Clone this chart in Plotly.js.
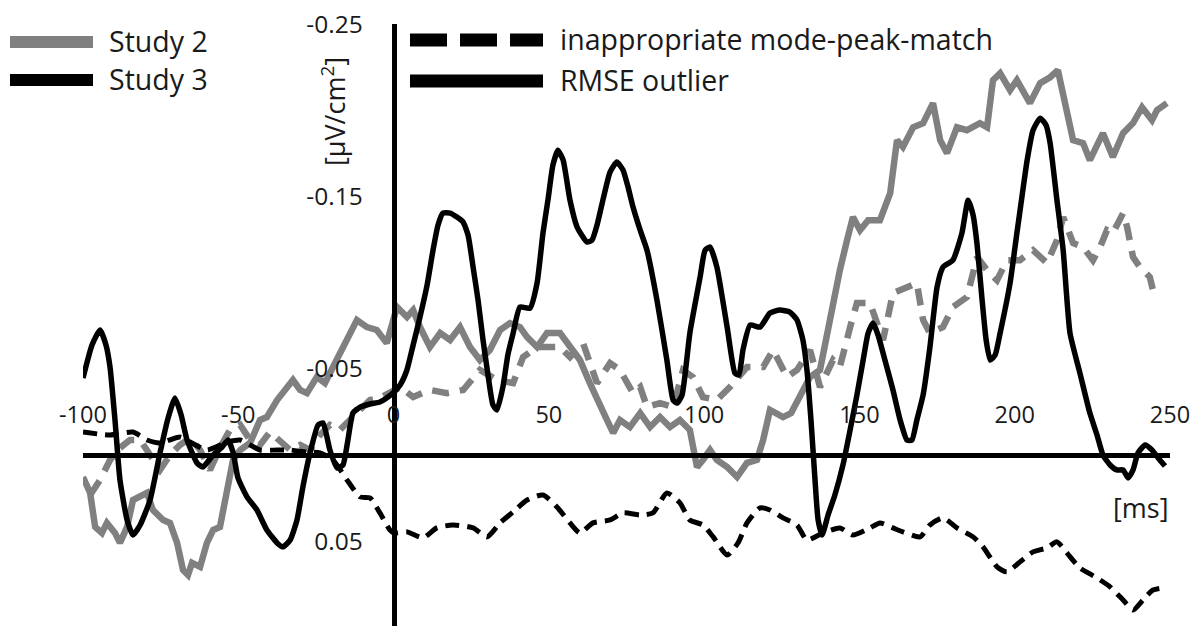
<!DOCTYPE html>
<html>
<head>
<meta charset="utf-8">
<script src="https://cdn.plot.ly/plotly-3.0.1.min.js"></script>
<style>html,body{margin:0;padding:0;background:#fff;}#chart{width:1200px;height:626px;}</style>
</head>
<body>
<div id="chart"></div>
<script>
// ---- data (time in ms, amplitude in µV/cm²) ----
const s3OutlierX = [-100,-97.1,-94.5,-92.6,-91.3,-89.7,-88.1,-85.8,-83.9,-81.6,-78.4,-75.2,-72.6,-70.4,-68.4,-66.5,-63.3,-61.4,-58.1,-55.2,-53.3,-51.7,-50.1,-47.2,-44.0,-40.8,-37.5,-35.6,-33.3,-31.1,-29.2,-26.9,-24.3,-22.7,-20.5,-18.2,-16.3,-14.7,-13.1,-10.8,-7.6,-4.4,-1.8,-0.2,2.1,4.3,6.3,8.5,10.8,12.7,14.3,15.9,18.2,20.4,22.4,24.0,25.6,27.2,28.8,30.4,32.0,33.3,35.2,36.8,38.5,40.7,43.9,46.2,48.1,49.7,51.3,52.9,54.6,56.8,59.1,62.3,63.9,65.5,67.4,69.7,71.9,73.9,75.5,77.1,79.4,81.6,84.8,88.0,90.0,91.3,92.9,95.4,98.7,100.3,101.9,104.1,107.4,109.9,111.2,112.5,114.8,118.0,121.2,124.4,127.6,129.9,131.8,133.1,134.4,135.7,136.7,138.0,139.9,142.1,144.7,147.0,149.2,151.2,152.8,154.4,156.0,158.2,160.8,163.1,165.3,166.9,168.5,170.5,172.7,175.0,176.9,180.1,183.0,185.0,186.6,187.9,189.5,190.8,192.1,193.7,195.3,198.5,200.7,202.4,204.0,205.9,208.2,210.1,211.4,213.6,215.6,217.8,221.0,224.2,226.5,228.4,230.7,232.9,234.9,236.5,238.1,239.7,242.0,244.2,246.2,248.4];
const s3OutlierY = [-0.0446,-0.0638,-0.0725,-0.0638,-0.0510,-0.0203,0.0145,0.0377,0.0464,0.0406,0.0261,-0.0012,-0.0214,-0.0330,-0.0232,-0.0087,0.0046,0.0070,0.0,-0.0046,-0.0087,-0.0017,0.0133,0.0243,0.0319,0.0435,0.0510,0.0533,0.0493,0.0377,0.0186,-0.0012,-0.0174,-0.0186,-0.0029,0.0075,0.0058,-0.0087,-0.0243,-0.0278,-0.0296,-0.0307,-0.0336,-0.0359,-0.0406,-0.0493,-0.0638,-0.0800,-0.0986,-0.1188,-0.1333,-0.1403,-0.1403,-0.1380,-0.1351,-0.1275,-0.1090,-0.0899,-0.0667,-0.0464,-0.0290,-0.0261,-0.0394,-0.0580,-0.0707,-0.0858,-0.0852,-0.0997,-0.1287,-0.1478,-0.1681,-0.1768,-0.1710,-0.1478,-0.1322,-0.1235,-0.1246,-0.1333,-0.1478,-0.1641,-0.1699,-0.1652,-0.1554,-0.1438,-0.1304,-0.1188,-0.0899,-0.0551,-0.0319,-0.0301,-0.0348,-0.0707,-0.1032,-0.1188,-0.1206,-0.1090,-0.0742,-0.0475,-0.0464,-0.0609,-0.0754,-0.0742,-0.0823,-0.0841,-0.0829,-0.0783,-0.0667,-0.0493,-0.0203,0.0145,0.0377,0.0464,0.0348,0.0232,0.0058,-0.0145,-0.0348,-0.0551,-0.0707,-0.0765,-0.0696,-0.0551,-0.0377,-0.0203,-0.0087,-0.0087,-0.0203,-0.0348,-0.0626,-0.0974,-0.1090,-0.1130,-0.1287,-0.1478,-0.1391,-0.1217,-0.0899,-0.0667,-0.0551,-0.0580,-0.0707,-0.0997,-0.1287,-0.1507,-0.1710,-0.1884,-0.1954,-0.1913,-0.1809,-0.1478,-0.1188,-0.0707,-0.0475,-0.0243,-0.0116,0.0,0.0058,0.0087,0.0087,0.0133,0.0087,-0.0012,-0.0058,-0.0029,0.0017,0.0064];

const s3MismatchX = [-100,-91.3,-83.9,-79.4,-75.2,-68.8,-65.5,-60.1,-53.6,-49.4,-43.0,-37.5,-33.3,-27.9,-23.7,-19.5,-15.0,-10.8,-7.6,-4.4,-1.2,0,4.3,9.5,13.9,19.1,25.6,30.1,34.3,38.5,43.0,48.1,52.6,56.8,60.0,64.2,69.7,73.9,79.4,83.5,88.0,92.2,95.4,99.6,102.9,107.4,110.9,113.8,118.0,121.2,125.4,129.9,133.1,138.3,143.7,147.9,153.4,156.6,160.8,164.0,169.5,172.7,176.9,181.4,186.6,189.8,194.3,197.5,201.7,205.9,210.4,213.6,216.8,221.0,226.5,230.7,234.9,238.1,241.3,244.5,247.7];
const s3MismatchY = [-0.0133,-0.0116,-0.0133,-0.0087,-0.0070,-0.0104,-0.0075,-0.0029,-0.0075,-0.0087,-0.0029,-0.0029,-0.0029,-0.0017,-0.0012,0.0029,0.0145,0.0243,0.0249,0.0336,0.0435,0.0452,0.0446,0.0481,0.0423,0.0406,0.0423,0.0475,0.0394,0.0330,0.0261,0.0232,0.0301,0.0394,0.0452,0.0394,0.0377,0.0336,0.0348,0.0336,0.0220,0.0278,0.0377,0.0406,0.0475,0.0580,0.0510,0.0394,0.0307,0.0319,0.0365,0.0406,0.0493,0.0452,0.0423,0.0464,0.0423,0.0394,0.0423,0.0446,0.0475,0.0406,0.0365,0.0423,0.0475,0.0533,0.0649,0.0678,0.0620,0.0562,0.0539,0.0504,0.0568,0.0655,0.0713,0.0765,0.0841,0.0899,0.0841,0.0783,0.0771];

const s2OutlierX = [-100,-97.7,-96.1,-93.9,-92.3,-89.7,-88.1,-85.8,-83.9,-81.6,-79.4,-77.5,-74.2,-72.0,-69.7,-67.8,-66.2,-64.9,-62.3,-60.1,-58.1,-55.9,-53.6,-51.7,-49.4,-46.2,-43.0,-40.8,-37.5,-34.3,-32.4,-30.1,-27.9,-24.7,-22.1,-19.5,-16.3,-11.8,-8.6,-5.4,-2.2,-0.2,1.1,4.3,6.3,8.5,11.7,15.0,18.2,21.4,24.6,27.8,31.0,34.3,37.5,40.7,43.0,46.2,49.4,53.6,56.8,60.0,63.2,66.5,68.7,70.7,72.9,76.1,79.4,82.6,85.8,89.0,92.2,95.4,97.7,99.6,101.9,104.1,107.4,110.6,113.8,117.0,119.0,121.2,125.4,128.0,130.9,134.1,137.3,139.6,141.5,143.7,146.0,147.9,150.2,152.8,156.6,159.9,162.1,164.0,167.3,170.5,173.7,176.0,178.2,181.4,184.6,188.8,191.1,193.0,195.3,198.5,200.7,204.9,208.2,211.4,213.9,216.8,218.8,222.0,224.2,228.4,231.6,234.9,238.1,241.0,244.2,245.8,249.0];
const s2OutlierY = [0.0128,0.0220,0.0417,0.0452,0.0394,0.0452,0.0510,0.0417,0.0261,0.0243,0.0220,0.0319,0.0377,0.0394,0.0510,0.0667,0.0696,0.0626,0.0649,0.0510,0.0435,0.0417,0.0186,0.0029,-0.0029,-0.0070,-0.0203,-0.0220,-0.0319,-0.0394,-0.0435,-0.0377,-0.0359,-0.0452,-0.0417,-0.0510,-0.0626,-0.0783,-0.0742,-0.0725,-0.0649,-0.0783,-0.0858,-0.0800,-0.0841,-0.0742,-0.0626,-0.0707,-0.0667,-0.0742,-0.0626,-0.0551,-0.0609,-0.0725,-0.0765,-0.0742,-0.0684,-0.0626,-0.0707,-0.0707,-0.0626,-0.0551,-0.0417,-0.0278,-0.0203,-0.0128,-0.0203,-0.0162,-0.0243,-0.0162,-0.0220,-0.0162,-0.0203,-0.0145,0.0070,0.0029,-0.0029,0.0029,0.0070,0.0128,0.0046,0.0029,-0.0087,-0.0261,-0.0220,-0.0243,-0.0336,-0.0452,-0.0493,-0.0707,-0.0899,-0.1072,-0.1246,-0.1380,-0.1304,-0.1362,-0.1362,-0.1519,-0.1826,-0.1786,-0.1901,-0.1925,-0.2041,-0.1826,-0.1751,-0.1901,-0.1884,-0.1925,-0.1901,-0.2174,-0.2214,-0.2116,-0.2174,-0.2041,-0.2157,-0.2191,-0.2232,-0.2000,-0.1826,-0.1809,-0.1710,-0.1867,-0.1728,-0.1867,-0.1925,-0.2017,-0.1942,-0.2000,-0.2041];

const s2MismatchX = [-97.7,-94.5,-91.3,-88.1,-84.9,-81.6,-78.4,-75.2,-72.0,-68.8,-65.5,-62.3,-59.1,-55.9,-52.7,-49.4,-46.2,-43.0,-39.8,-36.6,-33.3,-30.1,-26.9,-23.7,-20.5,-17.3,-14.0,-10.8,-7.6,-4.4,-0.2,2.1,6.3,11.7,17.2,22.4,27.8,33.3,38.5,41.7,46.2,50.4,53.6,56.8,61.0,65.5,69.7,72.9,77.1,79.4,81.6,85.8,90.0,93.2,96.4,99.6,104.1,108.3,113.8,119.0,122.2,126.7,129.9,134.1,137.3,141.5,143.7,147.0,149.2,153.4,157.6,160.8,165.3,168.5,170.5,172.7,176.9,180.1,184.6,187.9,191.1,194.3,197.5,201.7,205.9,210.4,213.6,215.6,218.8,222.0,225.2,227.5,229.7,231.6,234.9,236.2,238.1,240.3,243.5,244.5];
const s2MismatchY = [0.0232,0.0145,0.0029,-0.0041,-0.0087,-0.0087,0.0,0.0087,0.0,-0.0058,-0.0099,-0.0029,0.0087,-0.0041,-0.0145,-0.0174,-0.0087,-0.0058,-0.0133,-0.0087,-0.0029,-0.0058,-0.0029,-0.0116,-0.0174,-0.0145,-0.0203,-0.0261,-0.0319,-0.0330,-0.0377,-0.0394,-0.0336,-0.0377,-0.0359,-0.0377,-0.0493,-0.0435,-0.0417,-0.0568,-0.0626,-0.0626,-0.0626,-0.0568,-0.0649,-0.0417,-0.0533,-0.0493,-0.0359,-0.0394,-0.0278,-0.0301,-0.0278,-0.0493,-0.0452,-0.0336,-0.0319,-0.0394,-0.0510,-0.0510,-0.0609,-0.0452,-0.0493,-0.0609,-0.0394,-0.0551,-0.0510,-0.0742,-0.0881,-0.0881,-0.0667,-0.0939,-0.0974,-0.0997,-0.0783,-0.0707,-0.0742,-0.0858,-0.0916,-0.1148,-0.1072,-0.1014,-0.1130,-0.1130,-0.1188,-0.1113,-0.1246,-0.1380,-0.1229,-0.1206,-0.1130,-0.1206,-0.1304,-0.1287,-0.1403,-0.1322,-0.1148,-0.1090,-0.1032,-0.0957];

const xTickVals = [-100, -50, 0, 50, 100, 150, 200, 250];
const xTickText = ['-100', '-50', '0', '50', '100', '150', '200', '250'];
const yTickVals = [-0.25, -0.15, -0.05, 0.05];
const yTickText = ['-0.25', '-0.15', '-0.05', '0.05'];
const studyNames = ['Study 2', 'Study 3'];
const conditionNames = ['inappropriate mode-peak-match', 'RMSE outlier'];
const xTitle = '[ms]';
const yTitle = '[µV/cm<sup>2</sup>]';

// ---- layout helpers ----
const X_RANGE = [-100, 250];
const Y_RANGE = [0.0992, -0.25];           // reversed: negative values upward
const GRAY = 'rgb(128,128,128)';
const BLACK = '#000000';
const FONT = 'Open Sans, Noto Sans, sans-serif';
const TXT = '#1a1a1a';

const M = {l: 83, r: 30, t: 24, b: 0};
const W = 1200, H = 626;
const pw = W - M.l - M.r, ph = H - M.t - M.b;
const px2paperX = px => (px - M.l) / pw;
const px2paperY = py => (H - M.b - py) / ph;

const traces = [
  {x: s2MismatchX, y: s2MismatchY, name: studyNames[0] + ' – ' + conditionNames[0], mode: 'lines',
   line: {color: GRAY, width: 6.5, dash: '17px,11px'}, showlegend: false, hoverinfo: 'skip'},
  {x: s2OutlierX, y: s2OutlierY, name: studyNames[0] + ' – ' + conditionNames[1], mode: 'lines',
   line: {color: GRAY, width: 6.5}, showlegend: false, hoverinfo: 'skip'},
  {x: s3MismatchX, y: s3MismatchY, name: studyNames[1] + ' – ' + conditionNames[0], mode: 'lines',
   line: {color: BLACK, width: 5, dash: '14px,8px', shape: 'spline', smoothing: 0.6}, showlegend: false, hoverinfo: 'skip'},
  {x: s3OutlierX, y: s3OutlierY, name: studyNames[1] + ' – ' + conditionNames[1], mode: 'lines',
   line: {color: BLACK, width: 5.5, shape: 'spline', smoothing: 0.5}, showlegend: false, hoverinfo: 'skip'}
];

// legend drawn by hand (wide, thick samples like the original)
const legY1 = px2paperY(42), legY2 = px2paperY(80);
const legY3 = px2paperY(40), legY4 = px2paperY(81);
const shapes = [
  {type: 'line', xref: 'paper', yref: 'paper', x0: px2paperX(10), x1: px2paperX(93), y0: legY1, y1: legY1, line: {color: GRAY, width: 12}},
  {type: 'line', xref: 'paper', yref: 'paper', x0: px2paperX(10), x1: px2paperX(93), y0: legY2, y1: legY2, line: {color: BLACK, width: 12}},
  {type: 'line', xref: 'paper', yref: 'paper', x0: px2paperX(410), x1: px2paperX(543), y0: legY3, y1: legY3, line: {color: BLACK, width: 13, dash: '37px,13px'}},
  {type: 'line', xref: 'paper', yref: 'paper', x0: px2paperX(410), x1: px2paperX(543), y0: legY4, y1: legY4, line: {color: BLACK, width: 13}}
];

const legFont = {family: FONT, size: 28.5, color: TXT};
const annotations = [
  {xref: 'paper', yref: 'paper', x: px2paperX(107), y: px2paperY(41), xanchor: 'left', yanchor: 'middle', text: studyNames[0], showarrow: false, font: legFont},
  {xref: 'paper', yref: 'paper', x: px2paperX(107), y: px2paperY(79), xanchor: 'left', yanchor: 'middle', text: studyNames[1], showarrow: false, font: legFont},
  {xref: 'paper', yref: 'paper', x: px2paperX(558), y: px2paperY(39), xanchor: 'left', yanchor: 'middle', text: conditionNames[0], showarrow: false, font: legFont},
  {xref: 'paper', yref: 'paper', x: px2paperX(558), y: px2paperY(80), xanchor: 'left', yanchor: 'middle', text: conditionNames[1], showarrow: false, font: legFont},
  {xref: 'paper', yref: 'paper', x: px2paperX(334), y: px2paperY(112), xanchor: 'center', yanchor: 'middle', textangle: -90,
   text: yTitle, showarrow: false, font: {family: FONT, size: 27, color: TXT}},
  {xref: 'paper', yref: 'paper', x: px2paperX(1141), y: px2paperY(507), xanchor: 'center', yanchor: 'middle',
   text: xTitle, showarrow: false, font: {family: FONT, size: 27, color: TXT}}
];

const layout = {
  width: W, height: H,
  margin: M,
  paper_bgcolor: '#ffffff', plot_bgcolor: '#ffffff',
  font: {family: FONT, color: TXT},
  showlegend: false,
  xaxis: {
    range: X_RANGE, anchor: 'free',
    position: (Y_RANGE[0] - 0) / (Y_RANGE[0] - Y_RANGE[1]),
    side: 'top', showline: true, linecolor: BLACK, linewidth: 5,
    showgrid: false, zeroline: false, ticks: '',
    tickvals: xTickVals, ticktext: xTickText, ticklabelstandoff: 21,
    tickfont: {family: FONT, size: 23.5, color: TXT}, fixedrange: true
  },
  yaxis: {
    range: Y_RANGE, anchor: 'free',
    position: (0 - X_RANGE[0]) / (X_RANGE[1] - X_RANGE[0]),
    side: 'left', showline: true, linecolor: BLACK, linewidth: 5,
    showgrid: false, zeroline: false, ticks: '',
    tickvals: yTickVals, ticktext: yTickText, ticklabelstandoff: 24,
    tickfont: {family: FONT, size: 24.5, color: TXT}, fixedrange: true
  },
  shapes: shapes,
  annotations: annotations
};

Plotly.newPlot('chart', traces, layout, {displayModeBar: false, staticPlot: true});
</script>
</body>
</html>
